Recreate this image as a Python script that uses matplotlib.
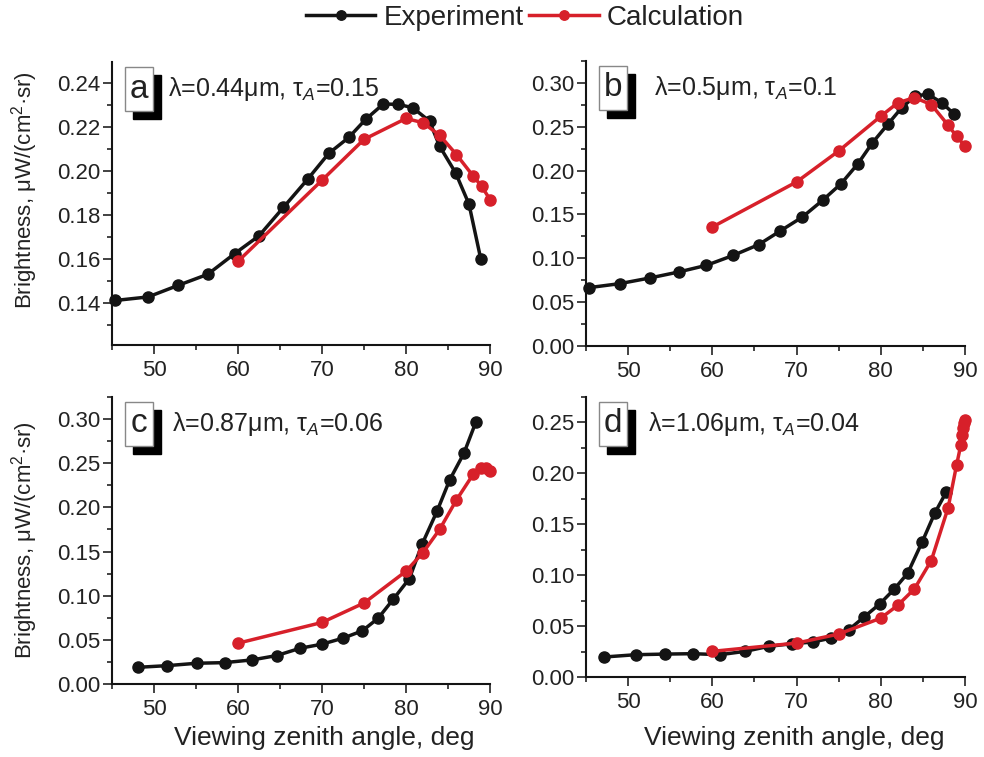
import matplotlib
matplotlib.use("Agg")
import matplotlib.pyplot as plt
from matplotlib.ticker import MultipleLocator, FormatStrFormatter
from matplotlib.patches import Rectangle

plt.rcParams['font.family'] = 'Liberation Sans'
plt.rcParams['mathtext.fontset'] = 'custom'
plt.rcParams['mathtext.rm'] = 'Liberation Sans'
plt.rcParams['mathtext.it'] = 'Liberation Sans:italic'

# panel a: 0.44 um
a_exp_x = [45.4, 49.3, 52.9, 56.4, 59.6, 62.5, 65.4, 68.3, 70.8, 73.2, 75.2, 77.3, 79.1, 80.8, 82.8, 84.0, 85.9, 87.5, 88.9]
a_exp_y = [0.141, 0.1426, 0.1479, 0.1529, 0.1623, 0.1704, 0.1833, 0.1962, 0.2079, 0.2152, 0.2234, 0.2304, 0.2302, 0.2287, 0.2226, 0.2112, 0.1991, 0.1848, 0.1599]
a_calc_x = [60, 70, 75, 80, 82, 84, 86, 88, 89, 90]
a_calc_y = [0.1588, 0.1957, 0.2143, 0.2238, 0.2219, 0.2162, 0.2074, 0.1976, 0.1930, 0.1869]

# panel b: 0.5 um
b_exp_x = [45.3, 49.0, 52.6, 56.0, 59.3, 62.5, 65.5, 68.0, 70.7, 73.1, 75.3, 77.3, 79.0, 80.9, 82.5, 84.1, 85.6, 87.3, 88.7]
b_exp_y = [0.0665, 0.0711, 0.0776, 0.0844, 0.0920, 0.1034, 0.1156, 0.1308, 0.1471, 0.1662, 0.1852, 0.2080, 0.2316, 0.2536, 0.2719, 0.2852, 0.2871, 0.2772, 0.2643]
b_calc_x = [60, 70, 75, 80, 82, 84, 86, 88, 89, 90]
b_calc_y = [0.1357, 0.1871, 0.2224, 0.2620, 0.2772, 0.2833, 0.2753, 0.2517, 0.2392, 0.2281]

# panel c: 0.87 um
c_exp_x = [48.1, 51.6, 55.1, 58.4, 61.7, 64.6, 67.4, 70.0, 72.5, 74.8, 76.7, 78.5, 80.4, 81.9, 83.7, 85.2, 86.9, 88.3]
c_exp_y = [0.0189, 0.0208, 0.0235, 0.0242, 0.0273, 0.0322, 0.0405, 0.0451, 0.0519, 0.0602, 0.0746, 0.0962, 0.1193, 0.1580, 0.1958, 0.2311, 0.2614, 0.2962]
c_calc_x = [60, 70, 75, 80, 82, 84, 86, 88, 88.9, 89.5, 90]
c_calc_y = [0.0462, 0.0697, 0.0917, 0.1277, 0.1485, 0.1750, 0.2083, 0.2375, 0.2443, 0.2451, 0.2413]

# panel d: 1.06 um
d_exp_x = [47.1, 50.9, 54.4, 57.7, 60.9, 63.9, 66.7, 69.5, 71.9, 74.1, 76.2, 78.0, 79.9, 81.6, 83.2, 84.9, 86.4, 87.8]
d_exp_y = [0.0196, 0.0219, 0.0225, 0.0229, 0.0219, 0.0252, 0.0301, 0.0327, 0.0343, 0.0382, 0.0464, 0.0588, 0.0719, 0.0863, 0.1020, 0.1324, 0.1608, 0.1820]
d_calc_x = [60, 70, 75, 80, 82, 84, 86, 88, 89, 89.5, 89.6, 89.75, 89.9, 90]
d_calc_y = [0.0252, 0.0333, 0.0422, 0.0578, 0.0703, 0.0866, 0.1144, 0.1663, 0.2082, 0.2278, 0.2376, 0.2441, 0.2490, 0.2523]

letters = ["a", "b", "c", "d"]
notes = ["λ=0.44μm, τ$_A$=0.15", "λ=0.5μm, τ$_A$=0.1", "λ=0.87μm, τ$_A$=0.06", "λ=1.06μm, τ$_A$=0.04"]

W, H = 984, 757
BLACK = "#141414"
RED = "#d7202a"
TXT = "#222222"

fig = plt.figure(figsize=(W / 100, H / 100), dpi=100)

# axes boxes in pixels: left, top, right, bottom
boxes = [(112, 62, 490, 345.5), (586, 61, 965, 346), (112, 397, 490, 684), (586, 397, 965, 677)]
ylims = [(0.1205, 0.2495), (0, 0.325), (0, 0.325), (0, 0.275)]
ymajor = [0.02, 0.05, 0.05, 0.05]
note_dx = [56, 68, 60, 62]
data = [(a_exp_x, a_exp_y, a_calc_x, a_calc_y),
        (b_exp_x, b_exp_y, b_calc_x, b_calc_y),
        (c_exp_x, c_exp_y, c_calc_x, c_calc_y),
        (d_exp_x, d_exp_y, d_calc_x, d_calc_y)]

axes = []
for i in range(4):
    l, t, r, b = boxes[i]
    ax = fig.add_axes([l / W, 1 - b / H, (r - l) / W, (b - t) / H])
    axes.append(ax)
    ex, ey, cx, cy = data[i]
    ax.plot(ex, ey, color=BLACK, lw=2.5, marker="o", ms=8, clip_on=False, label="Experiment")
    ax.plot(cx, cy, color=RED, lw=2.5, marker="o", ms=8, clip_on=False, label="Calculation")

    ax.set_xlim(45, 90)
    ax.set_ylim(*ylims[i])
    ax.xaxis.set_major_locator(MultipleLocator(10))
    ax.xaxis.set_minor_locator(MultipleLocator(5))
    ax.yaxis.set_major_locator(MultipleLocator(ymajor[i]))
    ax.yaxis.set_minor_locator(MultipleLocator(ymajor[i] / 2))
    ax.yaxis.set_major_formatter(FormatStrFormatter("%.2f"))
    for s in ["top", "right"]:
        ax.spines[s].set_visible(False)
    for s in ["left", "bottom"]:
        ax.spines[s].set_linewidth(1.5)
        ax.spines[s].set_color(BLACK)
    ax.tick_params(which="major", direction="out", length=6.5, width=1.2, labelsize=16, colors=TXT)
    ax.tick_params(which="minor", direction="out", length=3.6, width=1.2, colors=TXT)
    ax.tick_params(axis="y", pad=2)
    ax.tick_params(axis="x", pad=4)

    # letter box with shadow
    aw, ah = r - l, b - t
    bx, by, bw, bh = 13, 5, 28, 44
    ax.add_patch(Rectangle(((bx + 8) / aw, 1 - (by + 8 + bh) / ah), bw / aw, bh / ah,
                           transform=ax.transAxes, facecolor="black", edgecolor="black", clip_on=False, zorder=5))
    ax.add_patch(Rectangle((bx / aw, 1 - (by + bh) / ah), bw / aw, bh / ah,
                           transform=ax.transAxes, facecolor="white", edgecolor="#888888", lw=1, clip_on=False, zorder=6))
    ax.text((bx + bw / 2) / aw, 1 - (by + bh / 2) / ah, letters[i], transform=ax.transAxes,
            ha="center", va="center", fontsize=24, color=TXT, zorder=7)
    ax.text(note_dx[i] / aw, 1 - 27 / ah, notes[i], transform=ax.transAxes, ha="left", va="center",
            fontsize=18, color=TXT, zorder=7)

ylab = "Brightness, μW/(cm$^2$·sr)"
fig.text(25 / W, 1 - 190 / H, ylab, rotation=90, ha="center", va="center", fontsize=16,
         family=["Liberation Sans Narrow", "Liberation Sans"], color=TXT)
fig.text(25 / W, 1 - 540 / H, ylab, rotation=90, ha="center", va="center", fontsize=16,
         family=["Liberation Sans Narrow", "Liberation Sans"], color=TXT)

fig.text(324 / W, 1 - 738 / H, "Viewing zenith angle, deg", ha="center", va="center", fontsize=19, color=TXT)
fig.text(794 / W, 1 - 738 / H, "Viewing zenith angle, deg", ha="center", va="center", fontsize=19, color=TXT)

handles, labels = axes[0].get_legend_handles_labels()
fig.legend(handles, labels, loc="center", bbox_to_anchor=(525 / W, 1 - 18 / H), ncol=2, frameon=False,
           fontsize=20, handlelength=2.5, handletextpad=0.3, columnspacing=0.2, markerscale=0.85,
           labelcolor=TXT)

fig.savefig("out.png", dpi=100)
